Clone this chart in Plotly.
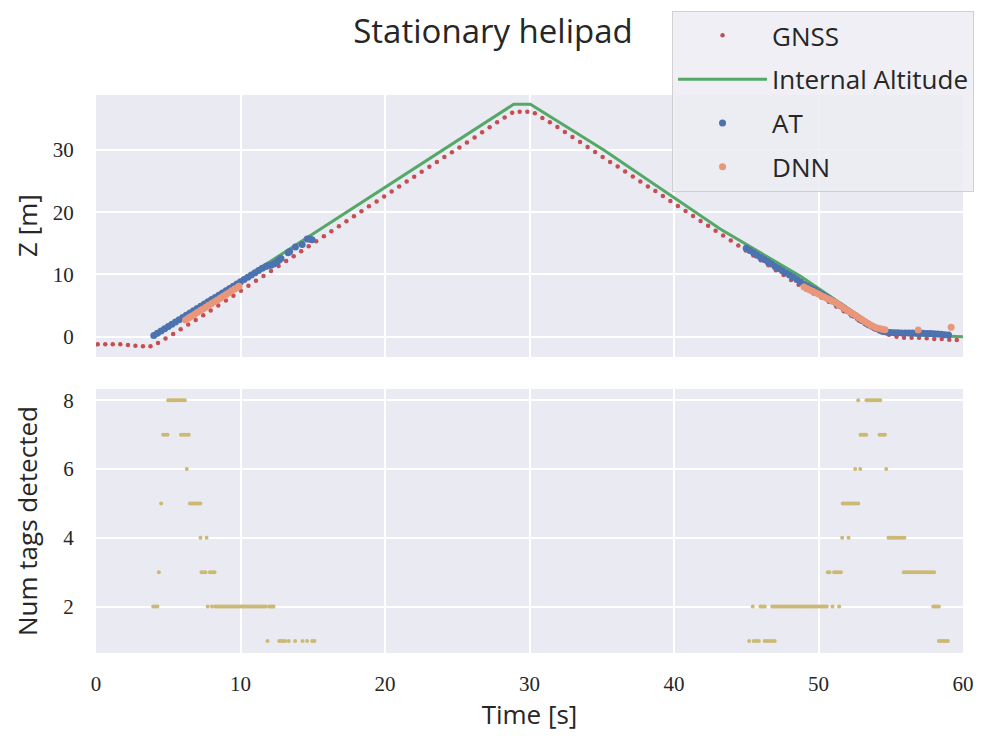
import plotly.graph_objects as go

# ---------------- data ----------------
gnss_t = [0.12, 0.64, 1.16, 1.68, 2.21, 2.73, 3.25, 3.77, 4.29, 4.81,
          5.34, 5.86, 6.38, 6.90, 7.42, 7.94, 8.46, 8.99, 9.51, 10.03,
          10.55, 11.07, 11.59, 12.11, 12.64, 13.16, 13.68, 14.20, 14.72, 15.24,
          15.77, 16.29, 16.81, 17.33, 17.85, 18.37, 18.89, 19.42, 19.94, 20.46,
          20.98, 21.50, 22.02, 22.54, 23.07, 23.59, 24.11, 24.63, 25.15, 25.67,
          26.20, 26.72, 27.24, 27.76, 28.28, 28.80, 29.32, 29.85, 30.37, 30.89,
          31.41, 31.93, 32.45, 32.97, 33.50, 34.02, 34.54, 35.06, 35.58, 36.10,
          36.62, 37.15, 37.67, 38.19, 38.71, 39.23, 39.75, 40.27, 40.80, 41.32,
          41.84, 42.36, 42.88, 43.40, 43.93, 44.45, 44.97, 45.49, 46.01, 46.53,
          47.05, 47.58, 48.10, 48.62, 49.14, 49.66, 50.18, 50.71, 51.23, 51.75,
          52.27, 52.79, 53.31, 53.84, 54.36, 54.88, 55.40, 55.92, 56.44, 56.96,
          57.49, 58.01, 58.53, 59.05, 59.57]
gnss_z = [-1.22, -1.22, -1.22, -1.22, -1.33, -1.45, -1.54, -1.54, -1.0, -0.3,
          0.45, 1.2, 1.95, 2.7, 3.45, 4.2, 5.0, 5.8, 6.6, 7.4,
          8.2, 9.0, 9.75, 10.55, 11.35, 12.15, 12.95, 13.75, 14.55, 15.35,
          16.15, 16.95, 17.75, 18.55, 19.35, 20.15, 20.95, 21.75, 22.55, 23.35,
          24.15, 24.95, 25.7, 26.5, 27.3, 28.1, 28.9, 29.65, 30.4, 31.2,
          32.0, 32.85, 33.65, 34.45, 35.25, 36.0, 36.17, 36.17, 35.9, 35.15,
          34.45, 33.7, 32.9, 32.1, 31.3, 30.5, 29.7, 28.9, 28.1, 27.35,
          26.55, 25.75, 24.95, 24.15, 23.4, 22.6, 21.8, 21.0, 20.2, 19.4,
          18.6, 17.85, 17.05, 16.25, 15.45, 14.65, 13.85, 13.05, 12.3, 11.5,
          10.7, 9.9, 9.1, 8.35, 7.6, 6.95, 6.3, 5.6, 4.85, 4.1,
          3.35, 2.6, 1.9, 1.25, 0.7, 0.3, 0.0, -0.15, -0.16, -0.16,
          -0.25, -0.35, -0.37, -0.5, -0.53]

alt_t = [4.0, 17.61, 28.9, 30.06, 35.14, 43.2, 48.76, 54.3, 55.5, 60.0]
alt_z = [0.0, 20.37, 37.35, 37.35, 30.0, 17.3, 9.7, 1.0, 0.4, 0.0]

at_t = [4.0, 4.25, 4.5, 4.75, 5.0, 5.25, 5.5, 5.75, 6.0, 6.25,
        6.5, 6.75, 7.0, 7.25, 7.5, 7.75, 8.0, 8.25, 8.5, 8.75,
        9.0, 9.25, 9.5, 9.75, 10.0, 10.25, 10.5, 10.75, 11.0, 11.25,
        11.5, 11.75, 11.9, 12.1, 12.3, 12.5, 12.65, 12.8, 13.3, 13.4,
        13.8, 14.27, 14.62, 14.78, 14.95,
        45.0, 45.25, 45.5, 45.75, 46.0, 46.25, 46.5, 46.75, 47.0, 47.25,
        47.5, 47.75, 48.0, 48.25, 48.5, 48.75, 49.0, 49.25, 49.5, 49.75,
        50.0, 50.25, 50.5, 50.75, 51.0, 51.25, 51.5, 51.75, 52.0, 52.25,
        52.5, 52.75, 53.0, 53.25, 53.5, 53.75, 54.0, 54.25, 54.5, 54.75,
        55.0, 55.25, 55.5, 55.75, 56.0, 56.25, 56.5, 56.75, 57.0, 57.25,
        57.5, 57.75, 58.0, 58.25, 58.5, 58.75, 59.0]
at_z = [0.2, 0.56, 0.92, 1.28, 1.64, 2.0, 2.36, 2.72, 3.08, 3.44,
        3.8, 4.16, 4.52, 4.88, 5.24, 5.6, 5.96, 6.32, 6.68, 7.04,
        7.4, 7.76, 8.12, 8.48, 8.84, 9.2, 9.56, 9.92, 10.28, 10.64,
        11.0, 11.3, 11.45, 11.5, 11.7, 12.0, 12.3, 12.55, 13.5, 13.7,
        14.4, 14.8, 15.7, 15.7, 15.6,
        14.2, 13.85, 13.5, 13.1, 12.75, 12.4, 12.05, 11.7, 11.3, 10.95,
        10.6, 10.25, 9.9, 9.55, 9.2, 8.85, 8.4, 8.1, 7.8, 7.5,
        7.15, 6.8, 6.45, 6.1, 5.75, 5.35, 5.0, 4.6, 4.2, 3.8,
        3.4, 3.0, 2.6, 2.25, 1.9, 1.6, 1.3, 1.05, 0.85, 0.72,
        0.68, 0.65, 0.62, 0.6, 0.6, 0.58, 0.58, 0.56, 0.55, 0.55,
        0.52, 0.5, 0.46, 0.42, 0.38, 0.33, 0.28]

dnn_t = [6.2, 6.4, 6.6, 6.8, 7.0, 7.2, 7.4, 7.6, 7.8, 8.0,
         8.2, 8.4, 8.6, 8.8, 9.0, 9.2, 9.4, 9.6, 9.8, 9.9,
         49.0, 49.2, 49.4, 49.6, 49.8, 50.0, 50.2, 50.4, 50.6, 50.8,
         51.0, 51.2, 51.4, 51.6, 51.8, 52.0, 52.2, 52.4, 52.6, 52.8,
         53.0, 53.2, 53.4, 53.6, 53.8, 54.0, 54.2, 54.4, 54.6, 56.9, 59.18]
dnn_z = [2.7, 3.0, 3.28, 3.58, 3.87, 4.16, 4.45, 4.74, 5.04, 5.33,
         5.62, 5.91, 6.2, 6.5, 6.79, 7.08, 7.37, 7.66, 7.96, 8.1,
         8.0, 7.75, 7.5, 7.3, 7.05, 6.85, 6.6, 6.4, 6.15, 5.95,
         5.7, 5.45, 5.15, 4.85, 4.55, 4.25, 3.95, 3.65, 3.35, 3.05,
         2.75, 2.45, 2.15, 1.9, 1.65, 1.45, 1.3, 1.18, 1.1, 1.08, 1.5]

tags_1 = [11.87, 12.68, 12.8, 12.95, 13.1, 13.34, 13.78, 14.29, 14.61, 14.96, 15.12,
          45.2, 45.52, 45.7, 45.87, 46.28, 46.45, 46.62, 46.8, 46.97,
          58.33, 58.46, 58.6, 58.73, 58.86, 58.95]
tags_2 = [3.96, 4.1, 4.25, 7.73, 8.03,
          8.26, 8.38, 8.5, 8.62, 8.74, 8.86, 8.98, 9.1, 9.22, 9.34,
          9.46, 9.58, 9.7, 9.82, 9.94, 10.06, 10.18, 10.3, 10.42, 10.54,
          10.66, 10.78, 10.9, 11.02, 11.14, 11.26, 11.38, 11.5, 11.62, 11.74,
          11.98, 12.1, 12.2, 12.28,
          45.45, 45.99, 46.13, 46.28,
          46.8, 46.93, 47.06, 47.19, 47.32, 47.45, 47.58, 47.71, 47.84, 47.97,
          48.1, 48.23, 48.36, 48.49, 48.62, 48.75, 48.88, 49.01, 49.14, 49.27,
          49.4, 49.53, 49.66, 49.79, 49.92, 50.05, 50.18, 50.31, 50.44, 50.57,
          50.97, 51.43, 57.94, 58.07, 58.2, 58.33]
tags_3 = [4.35, 7.3, 7.45, 7.58, 7.88, 8.05, 8.2,
          50.64, 50.76, 51.08, 51.22, 51.38, 51.55,
          55.9, 56.04, 56.18, 56.32, 56.46, 56.6, 56.74, 56.88, 57.02, 57.16,
          57.3, 57.44, 57.58, 57.72, 57.86, 58.0]
tags_4 = [7.23, 7.65, 51.64, 52.08,
          54.84, 54.97, 55.1, 55.24, 55.38, 55.52, 55.66, 55.8, 55.95]
tags_5 = [4.51, 6.5, 6.62, 6.75, 6.88, 7.0, 7.12, 7.22,
          51.68, 51.8, 51.93, 52.06, 52.2, 52.33, 52.47, 52.6, 52.75]
tags_6 = [6.28, 52.54, 52.89, 54.69]
tags_7 = [4.65, 4.8, 4.95, 5.88, 6.02, 6.15, 6.3, 6.42,
          52.91, 53.05, 53.18, 53.3, 54.22, 54.35, 54.48, 54.6]
tags_8 = [5.0, 5.12, 5.25, 5.38, 5.5, 5.62, 5.75, 5.88, 6.0, 6.15,
          52.75, 53.32, 53.45, 53.58, 53.72, 53.85, 54.0, 54.13, 54.27]
tag_levels = [1, 2, 3, 4, 5, 6, 7, 8]

x_ticks = [0, 10, 20, 30, 40, 50, 60]
z_ticks = [0, 10, 20, 30]
n_ticks = [2, 4, 6, 8]

# ---------------- figure ----------------
tag_x, tag_y = [], []
for lvl, ts in zip(tag_levels, [tags_1, tags_2, tags_3, tags_4, tags_5, tags_6, tags_7, tags_8]):
    tag_x += ts
    tag_y += [lvl] * len(ts)

SANS = "'Open Sans', 'Noto Sans', sans-serif"
SERIF = "'Liberation Serif', 'DejaVu Serif', serif"
TXT = "#262626"

fig = go.Figure()
fig.add_trace(go.Scatter(x=gnss_t, y=gnss_z, mode="markers", name="GNSS",
                         marker=dict(color="#C44E52", size=4.5), legendgroup="a",
                         xaxis="x", yaxis="y"))
fig.add_trace(go.Scatter(x=alt_t, y=alt_z, mode="lines", name="Internal Altitude",
                         line=dict(color="#55A868", width=3), legendgroup="b",
                         xaxis="x", yaxis="y"))
fig.add_trace(go.Scatter(x=at_t, y=at_z, mode="markers", name="AT",
                         marker=dict(color="#4C72B0", size=7), legendgroup="c",
                         xaxis="x", yaxis="y"))
fig.add_trace(go.Scatter(x=dnn_t, y=dnn_z, mode="markers", name="DNN",
                         marker=dict(color="#E9967A", size=7), legendgroup="d",
                         xaxis="x", yaxis="y"))
fig.add_trace(go.Scatter(x=tag_x, y=tag_y, mode="markers", showlegend=False,
                         marker=dict(color="#CCB974", size=4),
                         xaxis="x2", yaxis="y2"))

axis_common = dict(showgrid=True, gridcolor="white", gridwidth=1.8, zeroline=False,
                   showline=False, tickfont=dict(family=SERIF, size=21, color=TXT))

fig.update_layout(
    width=986, height=736,
    paper_bgcolor="white", plot_bgcolor="#EAEAF2",
    margin=dict(l=96, r=23, t=95, b=83, autoexpand=False),
    title=dict(text="Stationary helipad", x=0.5, xanchor="center",
               y=1 - 31 / 736, yanchor="middle", yref="container",
               font=dict(family=SANS, size=33, color=TXT)),
    xaxis=dict(domain=[0, 1], anchor="y", range=[0, 60], tickvals=x_ticks,
               showticklabels=False, **axis_common),
    yaxis=dict(domain=[0.5305, 1.0], anchor="x", range=[-3.26, 38.85], tickvals=z_ticks,
               ticks="outside", ticklen=17, tickcolor="rgba(0,0,0,0)", **axis_common),
    xaxis2=dict(domain=[0, 1], anchor="y2", range=[0, 60], tickvals=x_ticks,
                ticks="outside", ticklen=12, tickcolor="rgba(0,0,0,0)",
                title=dict(text="Time [s]", font=dict(family=SANS, size=26, color=TXT), standoff=8),
                **axis_common),
    yaxis2=dict(domain=[0, 0.4731], anchor="x2", range=[0.65, 8.33], tickvals=n_ticks,
                ticks="outside", ticklen=17, tickcolor="rgba(0,0,0,0)", **axis_common),
    legend=dict(x=0.6644, y=1.1506, xanchor="left", yanchor="top",
                bgcolor="rgba(236,236,243,0.85)", bordercolor="rgba(204,204,204,0.9)", borderwidth=1,
                font=dict(family=SANS, size=26, color=TXT),
                itemwidth=89, tracegroupgap=7),
    annotations=[
        dict(text="Z [m]", xref="paper", yref="paper", x=(27 - 96) / 867, y=(653 - 226) / 558,
             xanchor="center", yanchor="middle", textangle=-90, showarrow=False,
             font=dict(family=SANS, size=26, color=TXT)),
        dict(text="Num tags detected", xref="paper", yref="paper", x=(27 - 96) / 867, y=(653 - 521) / 558,
             xanchor="center", yanchor="middle", textangle=-90, showarrow=False,
             font=dict(family=SANS, size=26, color=TXT)),
    ],
)

fig.write_html("out.html", config={"displayModeBar": False},
               post_script="document.body.style.margin='0';")
